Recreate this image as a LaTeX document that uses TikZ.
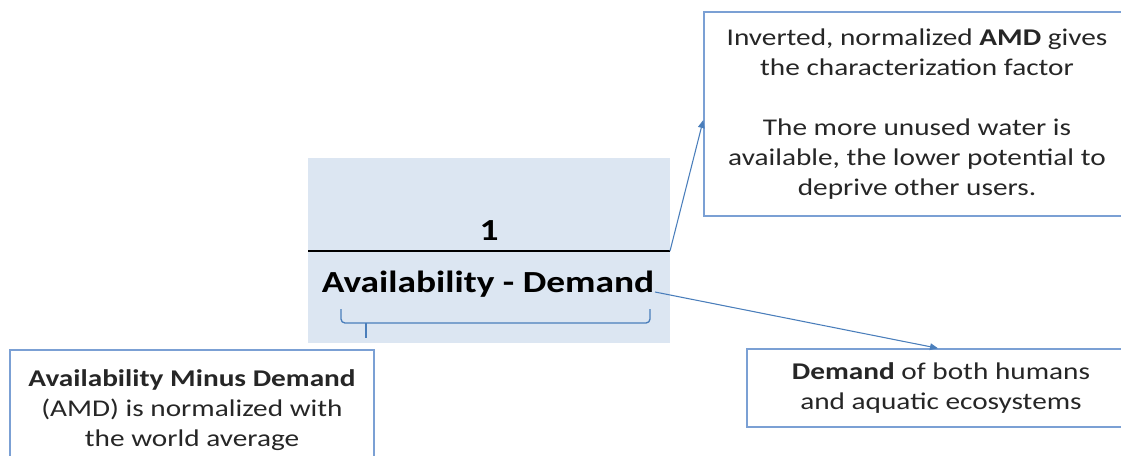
\documentclass[tikz,border=0pt]{standalone}
\usepackage{fontspec}
\setmainfont{Carlito}[FakeStretch=1.22]
\usetikzlibrary{arrows.meta}
\definecolor{shade}{HTML}{DCE6F2}
\definecolor{boxline}{HTML}{7BA0D4}
\definecolor{arrowc}{HTML}{4A7EBB}
\tikzset{
  infobox/.style={draw=boxline, line width=1.1pt, rectangle, inner sep=0pt, align=center,
    font=\fontsize{18}{22.5}\selectfont, text=black!85},
  formula/.style={font=\fontsize{23}{28}\selectfont\bfseries, inner sep=0pt, anchor=base},
  link/.style={draw=arrowc, line width=0.8pt, -{Triangle[length=6pt,width=5pt]}},
}
\begin{document}
\begin{tikzpicture}[x=0.75pt,y=-0.75pt]
\useasboundingbox (0,0) rectangle (1121,456);
\clip (0,0) rectangle (1121,456);
% shaded formula area
\node[fill=shade, minimum width=271.5pt, minimum height=138.75pt, inner sep=0pt] (area) at (489,250.5) {};
\coordinate (fl) at (308,251);
\coordinate (fr) at (670,251);
\draw[line width=2.2pt] (fl) -- (fr);
\node[formula] (one) at (489,240) {1};
\node[formula] (avd) at (488,292) {Availability - Demand};
% brace
\draw[arrowc, line width=1pt, rounded corners=3pt] (341,309) |- (650,323) -- (650,309);
\draw[arrowc, line width=1pt] (366,323) -- (366,338);
% boxes
\node[infobox, minimum width=319.5pt, minimum height=153pt] (tr) at (917,114)
  {Inverted, normalized \textbf{AMD} gives\\ the characterization factor\\[22.5pt]
   The more unused water is\\ available, the lower potential to\\ deprive other users.};
\node[infobox, minimum width=273pt, minimum height=90pt] (lb) at (192,410)
  {\textbf{Availability Minus Demand}\\ (AMD) is normalized with\\ the world average};
\node[infobox, minimum width=291pt, minimum height=58.5pt] (br) at (941,388)
  {\textbf{Demand} of both humans\\ and aquatic ecosystems};
% connectors
\coordinate (trin) at (tr.west |- 0,120);
\draw[link] (fr) -- (trin);
\coordinate (a2s) at (655,292);
\coordinate (brin) at (br.north -| 938,0);
\draw[link] (a2s) -- (brin);
\end{tikzpicture}
\end{document}
